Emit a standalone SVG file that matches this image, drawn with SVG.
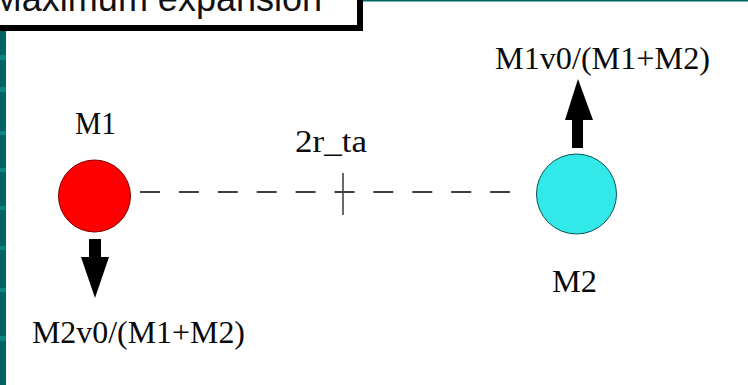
<svg xmlns="http://www.w3.org/2000/svg" width="748" height="385" viewBox="0 0 748 385">
<style>
.lbl{font-family:"Liberation Serif","Times New Roman",serif;font-size:32px;fill:#0a0a0a}
.ttl{font-family:"Liberation Sans",Arial,sans-serif;font-size:36px;fill:#111}
.arrow{fill:#000}
</style>
<rect x="0" y="0" width="748" height="385" fill="#ffffff"/>
<g id="frame">
<rect x="0" y="31" width="6" height="354" fill="#006464"/>
<g fill="#0a8580">
<rect x="0" y="55" width="6" height="5"/>
<rect x="0" y="87" width="6" height="5"/>
<rect x="0" y="131" width="6" height="4"/>
<rect x="0" y="168" width="6" height="4"/>
<rect x="0" y="206" width="6" height="4"/>
<rect x="0" y="246" width="6" height="4"/>
<rect x="0" y="288" width="6" height="4"/>
<rect x="0" y="336" width="6" height="5"/>
</g>
<rect x="363" y="0" width="385" height="1.5" fill="#006464"/>
</g>
<g id="title">
<rect x="-10" y="-10" width="370" height="38" fill="#ffffff" stroke="#000" stroke-width="6"/>
<text class="ttl" x="322" y="11" text-anchor="end">Maximum expansion</text>
</g>
<g id="connectors">
<line x1="140" y1="192" x2="510" y2="192" stroke="#000" stroke-width="1.6" stroke-dasharray="20 18.9"/>
<line x1="343" y1="173" x2="343" y2="215" stroke="#444" stroke-width="1.6"/>
<text class="lbl" x="295" y="152" textLength="72" lengthAdjust="spacingAndGlyphs">2r_ta</text>
</g>
<g id="M1">
<circle cx="94.5" cy="196" r="36" fill="#ff0000" stroke="#7a0000" stroke-width="1"/>
<text class="lbl" x="75" y="134" textLength="41" lengthAdjust="spacingAndGlyphs">M1</text>
<g class="arrow">
<rect x="89" y="239" width="12" height="19"/>
<polygon points="81,257 109,257 95,298"/>
</g>
<text class="lbl" x="32" y="343" textLength="213" lengthAdjust="spacingAndGlyphs">M2v0/(M1+M2)</text>
</g>
<g id="M2">
<circle cx="576.5" cy="194" r="40" fill="#33e8e8" stroke="#0a5050" stroke-width="1"/>
<text class="lbl" x="552" y="292" textLength="45" lengthAdjust="spacingAndGlyphs">M2</text>
<g class="arrow">
<rect x="572" y="119" width="11" height="29"/>
<polygon points="565,120 593,120 578,79"/>
</g>
<text class="lbl" x="495" y="69" textLength="215" lengthAdjust="spacingAndGlyphs">M1v0/(M1+M2)</text>
</g>
</svg>
